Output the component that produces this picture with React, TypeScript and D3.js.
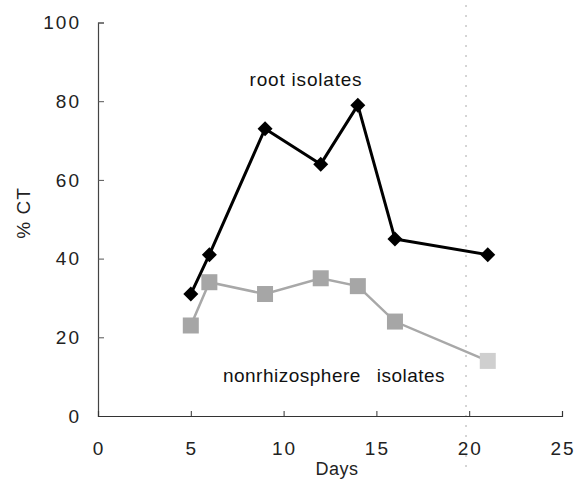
import React, { useEffect, useRef } from "react";
import * as d3 from "d3";

const days = [5, 6, 9, 12, 14, 16, 21];
const rootIsolates = [31, 41, 73, 64, 79, 45, 41];
const nonrhizoIsolates = [23, 34, 31, 35, 33, 24, 14];
const xTicks = [0, 5, 10, 15, 20, 25];
const yTicks = [0, 20, 40, 60, 80, 100];

export default function App() {
  const ref = useRef<SVGSVGElement | null>(null);

  useEffect(() => {
    document.body.style.margin = "0";
    const height = 479;
    const margin = { top: 22.5, right: 20, bottom: 63, left: 98 };
    const svg = d3.select(ref.current);
    svg.selectAll("*").remove();

    const x = d3.scaleLinear().domain([0, 25]).range([margin.left, 562]);
    const y = d3
      .scaleLinear()
      .domain([0, 100])
      .range([height - margin.bottom, margin.top]);

    const font = "'Liberation Sans', Arial, sans-serif";

    // faint scan line at day 20
    svg
      .append("line")
      .attr("x1", 466)
      .attr("x2", 466)
      .attr("y1", 5)
      .attr("y2", 472)
      .attr("stroke", "#aaa")
      .attr("stroke-width", 1)
      .attr("stroke-dasharray", "2,8");

    // y axis
    const yAxis = d3
      .axisRight(y)
      .tickValues(yTicks)
      .tickSize(6)
      .tickFormat(() => "");
    const gy = svg
      .append("g")
      .attr("transform", "translate(" + x(0) + ",0)")
      .call(yAxis);
    gy.select(".domain").attr("stroke", "#444").attr("stroke-width", 1.2);
    gy.selectAll(".tick line").attr("stroke", "#555");

    svg
      .append("g")
      .selectAll("text")
      .data(yTicks)
      .join("text")
      .attr("x", 81)
      .attr("y", (d) => y(d))
      .attr("dy", "0.35em")
      .attr("text-anchor", "end")
      .style("font-family", font)
      .style("font-size", "19px")
      .style("letter-spacing", "2px")
      .attr("fill", "#222")
      .text((d) => d);

    // x axis
    const xAxis = d3
      .axisTop(x)
      .tickValues(xTicks)
      .tickSize(5)
      .tickFormat(() => "");
    const gx = svg
      .append("g")
      .attr("transform", "translate(0," + y(0) + ")")
      .call(xAxis);
    gx.select(".domain").attr("stroke", "#333").attr("stroke-width", 1.2);
    gx.selectAll(".tick line").attr("stroke", "#333");

    svg
      .append("g")
      .selectAll("text")
      .data(xTicks)
      .join("text")
      .attr("x", (d) => x(d) + 1)
      .attr("y", 448)
      .attr("dy", "0.35em")
      .attr("text-anchor", "middle")
      .style("font-family", font)
      .style("font-size", "19px")
      .style("letter-spacing", "2px")
      .attr("fill", "#222")
      .text((d) => d);

    svg
      .append("text")
      .attr("x", 337)
      .attr("y", 469)
      .attr("dy", "0.35em")
      .attr("text-anchor", "middle")
      .style("font-family", font)
      .style("font-size", "18px")
      .style("letter-spacing", "0.5px")
      .attr("fill", "#222")
      .text("Days");

    svg
      .append("text")
      .attr("transform", "translate(23,213) rotate(-90)")
      .attr("dy", "0.35em")
      .attr("text-anchor", "middle")
      .style("font-family", font)
      .style("font-size", "19px")
      .style("letter-spacing", "1px")
      .attr("fill", "#222")
      .text("% CT");

    const line = d3
      .line<number>()
      .x((d, i) => x(days[i]))
      .y((d) => y(d));

    // nonrhizosphere series
    svg
      .append("path")
      .datum(nonrhizoIsolates)
      .attr("fill", "none")
      .attr("stroke", "#a8a8a8")
      .attr("stroke-width", 2.5)
      .attr("d", line);
    svg
      .append("g")
      .selectAll("rect")
      .data(nonrhizoIsolates)
      .join("rect")
      .attr("x", (d, i) => x(days[i]) - 8)
      .attr("y", (d) => y(d) - 8)
      .attr("width", 16)
      .attr("height", 16)
      .attr("fill", (d, i) => (i === days.length - 1 ? "#cfcfcf" : "#a6a6a6"));

    // root series
    svg
      .append("path")
      .datum(rootIsolates)
      .attr("fill", "none")
      .attr("stroke", "#000")
      .attr("stroke-width", 3)
      .attr("stroke-linejoin", "round")
      .attr("d", line);
    svg
      .append("g")
      .selectAll("path")
      .data(rootIsolates)
      .join("path")
      .attr("transform", (d, i) => "translate(" + x(days[i]) + "," + y(d) + ")")
      .attr("d", "M0,-7.5L7.5,0L0,7.5L-7.5,0Z")
      .attr("fill", "#000");

    svg
      .append("text")
      .attr("x", 306)
      .attr("y", 79)
      .attr("dy", "0.35em")
      .attr("text-anchor", "middle")
      .style("font-family", font)
      .style("font-size", "19px")
      .style("letter-spacing", "0.8px")
      .attr("fill", "#111")
      .text("root isolates");

    svg
      .append("text")
      .attr("x", 334)
      .attr("y", 375)
      .attr("dy", "0.35em")
      .attr("text-anchor", "middle")
      .style("font-family", font)
      .style("font-size", "19px")
      .style("letter-spacing", "0.5px")
      .style("word-spacing", "10px")
      .attr("fill", "#111")
      .text("nonrhizosphere isolates");
  }, []);

  return <svg ref={ref} width={582} height={479} style={{ display: "block", background: "#fff" }} />;
}
